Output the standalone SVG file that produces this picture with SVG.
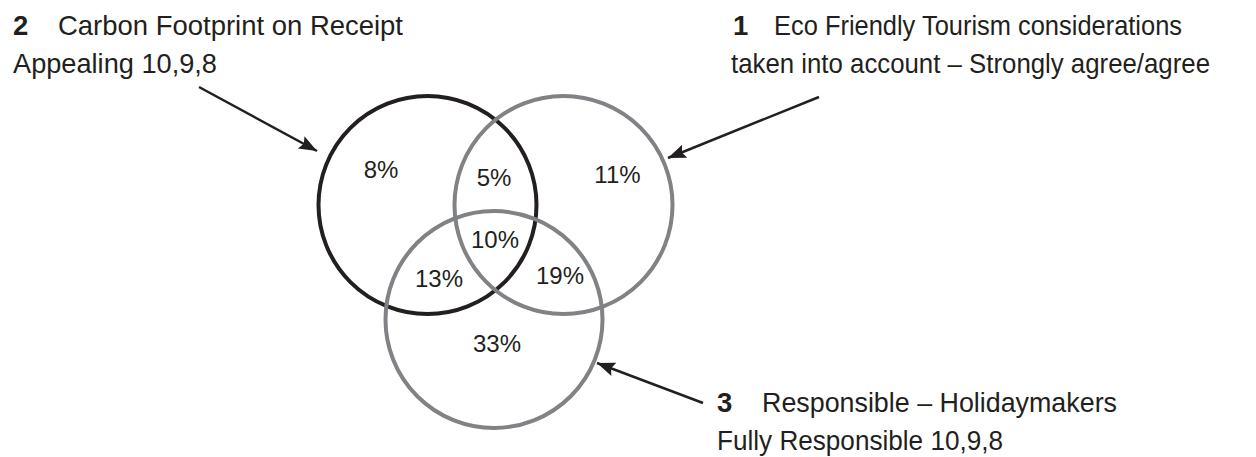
<svg xmlns="http://www.w3.org/2000/svg" width="1256" height="457" viewBox="0 0 1256 457">
<style>
.lbl{font-family:"Liberation Sans",Arial,sans-serif;font-size:27.5px;fill:#231f20}
.num{font-weight:bold}
.pct{font-family:"Liberation Sans",Arial,sans-serif;font-size:24px;fill:#231f20;text-anchor:middle}
.ring{fill:none;stroke-width:4}
.black{stroke:#231f20}
.grey{stroke:#808285}
.arrow{stroke:#231f20;stroke-width:2.5;fill:none;marker-end:url(#head)}
</style>
<defs>
<marker id="head" markerUnits="userSpaceOnUse" markerWidth="20" markerHeight="16" refX="18" refY="7" orient="auto">
<path d="M0,0 L18,7 L0,14 L3,7 Z" fill="#231f20"/>
</marker>
</defs>
<rect width="1256" height="457" fill="#ffffff"/>
<g id="set2">
<circle class="ring black" cx="427.5" cy="205" r="109"/>
<text class="lbl num" x="13" y="35">2</text>
<text class="lbl" x="58" y="35" textLength="345" lengthAdjust="spacingAndGlyphs">Carbon Footprint on Receipt</text>
<text class="lbl" x="13" y="72.5" textLength="204" lengthAdjust="spacingAndGlyphs">Appealing 10,9,8</text>
</g>
<g id="set1">
<circle class="ring grey" cx="563.5" cy="205" r="109"/>
<text class="lbl num" x="733" y="35">1</text>
<text class="lbl" x="774" y="35" textLength="408" lengthAdjust="spacingAndGlyphs">Eco Friendly Tourism considerations</text>
<text class="lbl" x="731" y="73" textLength="479" lengthAdjust="spacingAndGlyphs">taken into account – Strongly agree/agree</text>
</g>
<g id="set3">
<circle class="ring grey" cx="494" cy="319.5" r="108.5"/>
<text class="lbl num" x="717" y="412">3</text>
<text class="lbl" x="762" y="412" textLength="355" lengthAdjust="spacingAndGlyphs">Responsible – Holidaymakers</text>
<text class="lbl" x="717" y="450" textLength="286" lengthAdjust="spacingAndGlyphs">Fully Responsible 10,9,8</text>
</g>
<g id="regions">
<text class="pct" x="381" y="178">8%</text>
<text class="pct" x="494" y="186">5%</text>
<text class="pct" x="617.5" y="183">11%</text>
<text class="pct" x="495" y="247.5">10%</text>
<text class="pct" x="439" y="286.5">13%</text>
<text class="pct" x="560" y="284">19%</text>
<text class="pct" x="497" y="351.5">33%</text>
</g>
<g id="connectors">
<line class="arrow" x1="199" y1="87" x2="317" y2="151"/>
<line class="arrow" x1="819" y1="97" x2="668" y2="158"/>
<line class="arrow" x1="703" y1="403" x2="597" y2="363"/>
</g>
</svg>
